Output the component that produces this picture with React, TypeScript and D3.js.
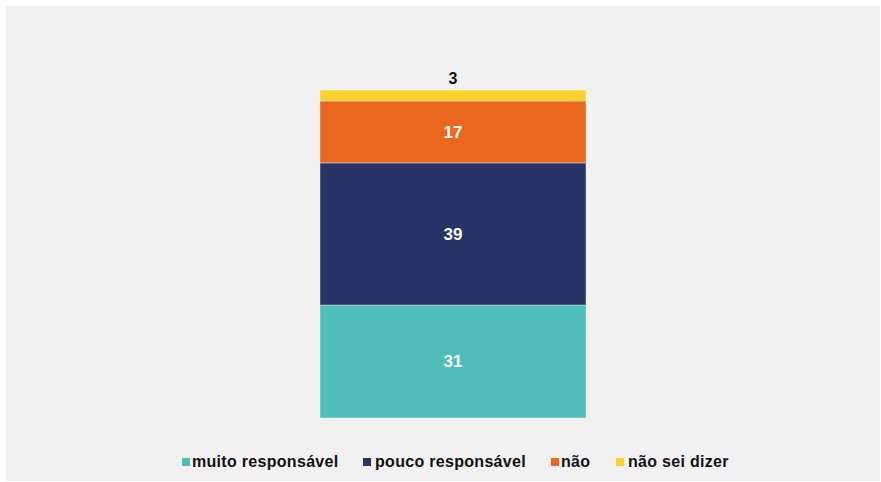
import React from "react";
import * as d3 from "d3";

const categories = ["muito responsável", "pouco responsável", "não", "não sei dizer"];
const values = [31, 39, 17, 3];
const colors = ["#4FBEBA", "#283467", "#EB671E", "#FDD22F"];
const labelColors = ["#FFFFFF", "#FFFFFF", "#FFFFFF", "#111111"];

const W = 881;
const H = 482;
const legendX = [182, 363, 551, 616];
const legendTextX = [10, 12, 10, 12];

export default function App() {
  const y = d3.scaleLinear().domain([0, 100]).range([418, 53.6]);
  const x = d3.scaleBand<string>().domain(["total"]).range([320, 586]).padding(0);
  const stack = d3.stack<Record<string, number>>().keys(categories);
  const row: Record<string, number> = {};
  categories.forEach((c, i) => (row[c] = values[i]));
  const series = stack([row]);
  const bx = x("total") as number;
  const bw = x.bandwidth();
  const font = "'Liberation Sans', Arial, sans-serif";

  return (
    <svg
      width={W}
      height={H}
      style={{ position: "absolute", left: 0, top: 0, display: "block" }}
    >
      <rect x={0} y={0} width={W} height={H} fill="#ffffff" />
      <rect x={6} y={6} width={874} height={475} fill="#F1F1F1" />
      {series.map((s, i) => {
        const [y0, y1] = s[0];
        const top = y(y1);
        const bot = y(y0);
        const small = i === categories.length - 1;
        return (
          <g key={categories[i]}>
            <rect
              x={bx}
              y={top}
              width={bw}
              height={bot - top}
              fill={colors[i]}
              stroke="#ffffff"
              strokeOpacity={0.5}
              strokeWidth={0.75}
            />
            <text
              x={bx + bw / 2}
              y={small ? top - 6 : (top + bot) / 2}
              dy={small ? 0 : "0.35em"}
              textAnchor="middle"
              fontFamily={font}
              fontWeight="bold"
              fontSize={small ? 16 : 17}
              fill={labelColors[i]}
            >
              {values[i]}
            </text>
          </g>
        );
      })}
      {categories.map((c, i) => (
        <g key={c} transform={`translate(${legendX[i]},458)`}>
          <rect x={0} y={0} width={8} height={8} fill={colors[i]} />
          <text
            x={legendTextX[i]}
            y={9}
            fontFamily={font}
            fontWeight="bold"
            fontSize={16}
            letterSpacing={0.3}
            fill="#111111"
          >
            {c}
          </text>
        </g>
      ))}
    </svg>
  );
}
